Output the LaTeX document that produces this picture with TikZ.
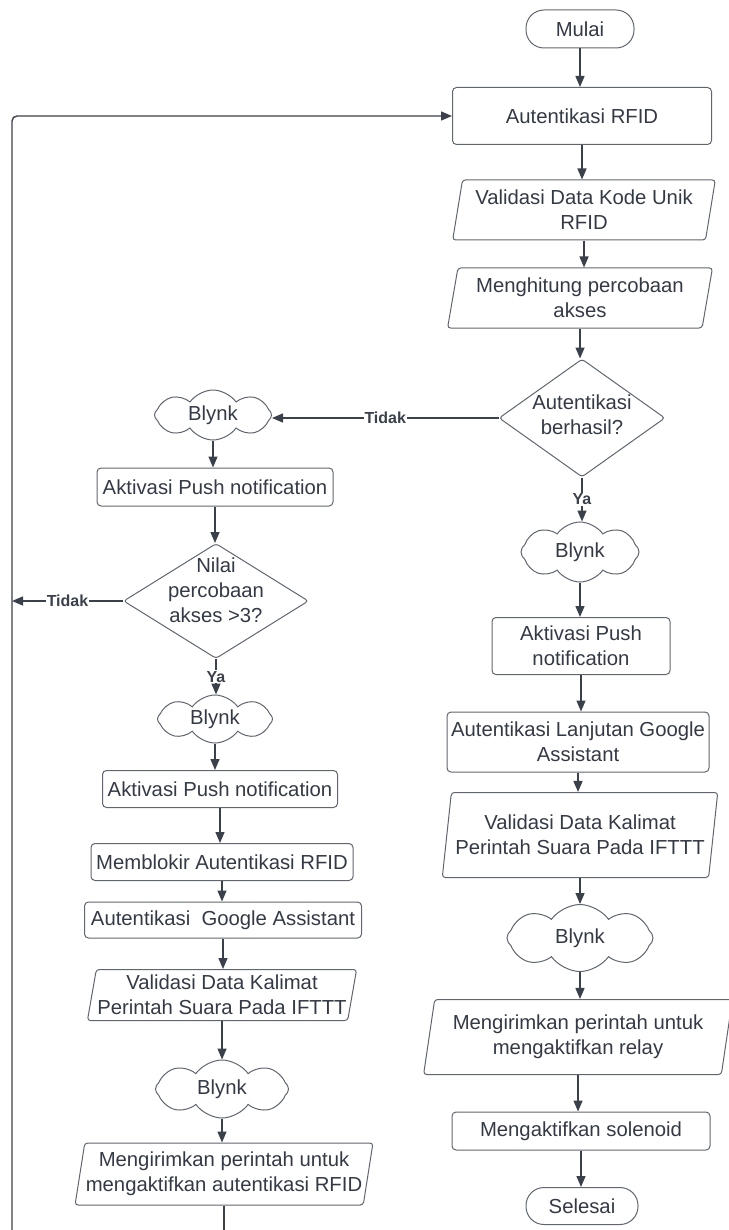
\documentclass[tikz,border=0pt]{standalone}
\usepackage{fontspec}
\setmainfont{Liberation Sans}
\usetikzlibrary{shapes.geometric,shapes.symbols,arrows.meta}
\definecolor{txt}{HTML}{333A45}
\definecolor{brd}{HTML}{5F6670}
\definecolor{ln}{HTML}{3A414A}
\begin{document}
\begin{tikzpicture}[x=1pt,y=-1pt,
  every node/.style={text=txt, font=\fontsize{20.3}{25}\selectfont, align=center},
  box/.style={draw=brd, line width=1pt, rounded corners=4pt, inner sep=2pt},
  term/.style={draw=brd, line width=1pt, rounded corners=18pt, inner sep=2pt},
  para/.style={draw=brd, line width=1pt, trapezium, trapezium left angle=78, trapezium right angle=102, trapezium stretches=true, rounded corners=3pt, inner sep=1pt},
  dec/.style={draw=brd, line width=1pt, diamond, inner sep=0pt, rounded corners=3pt},
  cloudy/.style={draw=brd, line width=1pt, cloud, cloud puffs=8, cloud puff arc=110, cloud ignores aspect, inner sep=0pt},
  flow/.style={draw=ln, line width=1.4pt, -{Triangle[length=11pt,width=9pt]}},
  plain/.style={draw=ln, line width=1.4pt},
  lab/.style={fill=white, inner sep=1pt, font=\bfseries\fontsize{16}{16}\selectfont, text=ln},
]
\useasboundingbox (0,0) rectangle (728,1230);

% right column
\node[term, minimum width=108pt, minimum height=38pt] (mulai) at (580,29) {Mulai};
\node[box, minimum width=259pt, minimum height=57pt] (auth) at (582,116) {Autentikasi RFID};
\node[para, minimum width=263pt, minimum height=60pt] (valid1) at (584,210) {Validasi Data Kode Unik\\RFID};
\node[para, minimum width=265pt, minimum height=60pt] (hitung) at (580,298) {Menghitung percobaan\\akses};
\node[dec, minimum width=166pt, minimum height=118pt, label={[yshift=3pt]center:Autentikasi\\berhasil?}] (dec1) at (582,418) {};
\node[cloudy, minimum width=118pt, minimum height=60pt] (blynkR1) at (580,552) {Blynk};
\node[box, minimum width=178pt, minimum height=57pt] (aktR) at (581,646) {Aktivasi Push\\notification};
\node[box, minimum width=262pt, minimum height=60pt] (lanjut) at (578,742) {Autentikasi Lanjutan Google\\Assistant};
\node[para, minimum width=276pt, minimum height=85pt] (validR) at (580,835) {Validasi Data Kalimat\\Perintah Suara Pada IFTTT};
\node[cloudy, minimum width=146pt, minimum height=67pt] (blynkR2) at (580,938) {Blynk};
\node[para, minimum width=310pt, minimum height=75pt] (kirimR) at (578,1037) {Mengirimkan perintah untuk\\mengaktifkan relay};
\node[box, minimum width=258pt, minimum height=38pt] (solenoid) at (581,1131) {Mengaktifkan solenoid};
\node[term, minimum width=112pt, minimum height=37pt] (selesai) at (582,1206) {Selesai};

% left column
\node[cloudy, minimum width=117pt, minimum height=50pt] (blynkL1) at (213,415) {Blynk};
\node[box, minimum width=236pt, minimum height=38pt] (aktL1) at (215,487) {Aktivasi Push notification};
\node[dec, minimum width=185pt, minimum height=115pt, label={[yshift=11pt]center:Nilai\\percobaan\\akses >3?}] (dec2) at (216,601) {};
\node[cloudy, minimum width=115pt, minimum height=48pt] (blynkL2) at (215,719) {Blynk};
\node[box, minimum width=235pt, minimum height=37pt] (aktL2) at (220,789) {Aktivasi Push notification};
\node[box, minimum width=262pt, minimum height=37pt] (blokir) at (222,862) {Memblokir Autentikasi RFID};
\node[box, minimum width=277pt, minimum height=36pt] (authG) at (223,920) {Autentikasi~ Google Assistant};
\node[para, minimum width=258pt, minimum height=51pt] (validL) at (222,995) {Validasi Data Kalimat\\Perintah Suara Pada IFTTT};
\node[cloudy, minimum width=133pt, minimum height=58pt] (blynkL3) at (222,1089) {Blynk};
\node[para, minimum width=293pt, minimum height=62pt] (kirimL) at (224,1174) {Mengirimkan perintah untuk\\mengaktifkan autentikasi RFID};

\coordinate (lb) at (12,1230);
\coordinate (bot) at (224,1230);

% right flow
\draw[flow] (mulai.south) -- (mulai.south |- auth.north);
\draw[flow] (auth.south) -- (auth.south |- valid1.north);
\draw[flow] (valid1.south) -- (valid1.south |- hitung.north);
\draw[flow] (hitung.south) -- (hitung.south |- dec1.north);
\draw[flow] (dec1.south) -- node[lab]{Ya} (dec1.south |- blynkR1.north);
\draw[flow] (blynkR1.south) -- (blynkR1.south |- aktR.north);
\draw[flow] (aktR.south) -- (aktR.south |- lanjut.north);
\draw[flow] (lanjut.south) -- (lanjut.south |- validR.north);
\draw[flow] (validR.south) -- (validR.south |- blynkR2.north);
\draw[flow] (blynkR2.south) -- (blynkR2.south |- kirimR.north);
\draw[flow] (kirimR.south) -- (kirimR.south |- solenoid.north);
\draw[flow] (solenoid.south) -- (solenoid.south |- selesai.north);

% branch
\draw[flow] (dec1.west) -- node[lab]{Tidak} (dec1.west -| blynkL1.east);

% left flow
\draw[flow] (blynkL1.south) -- (blynkL1.south |- aktL1.north);
\draw[flow] (aktL1.south) -- (aktL1.south |- dec2.north);
\draw[flow] (dec2.south) -- node[lab]{Ya} (dec2.south |- blynkL2.north);
\draw[flow] (dec2.west) -- node[lab]{Tidak} (dec2.west -| lb);
\draw[flow] (blynkL2.south) -- (blynkL2.south |- aktL2.north);
\draw[flow] (aktL2.south) -- (aktL2.south |- blokir.north);
\draw[flow] (blokir.south) -- (blokir.south |- authG.north);
\draw[flow] (authG.south) -- (authG.south |- validL.north);
\draw[flow] (validL.south) -- (validL.south |- blynkL3.north);
\draw[flow] (blynkL3.south) -- (blynkL3.south |- kirimL.north);
\draw[plain] (kirimL.south) -- (kirimL.south |- bot);

% loop back
\draw[flow, rounded corners=5pt] (lb) |- (auth.west);
\end{tikzpicture}
\end{document}
